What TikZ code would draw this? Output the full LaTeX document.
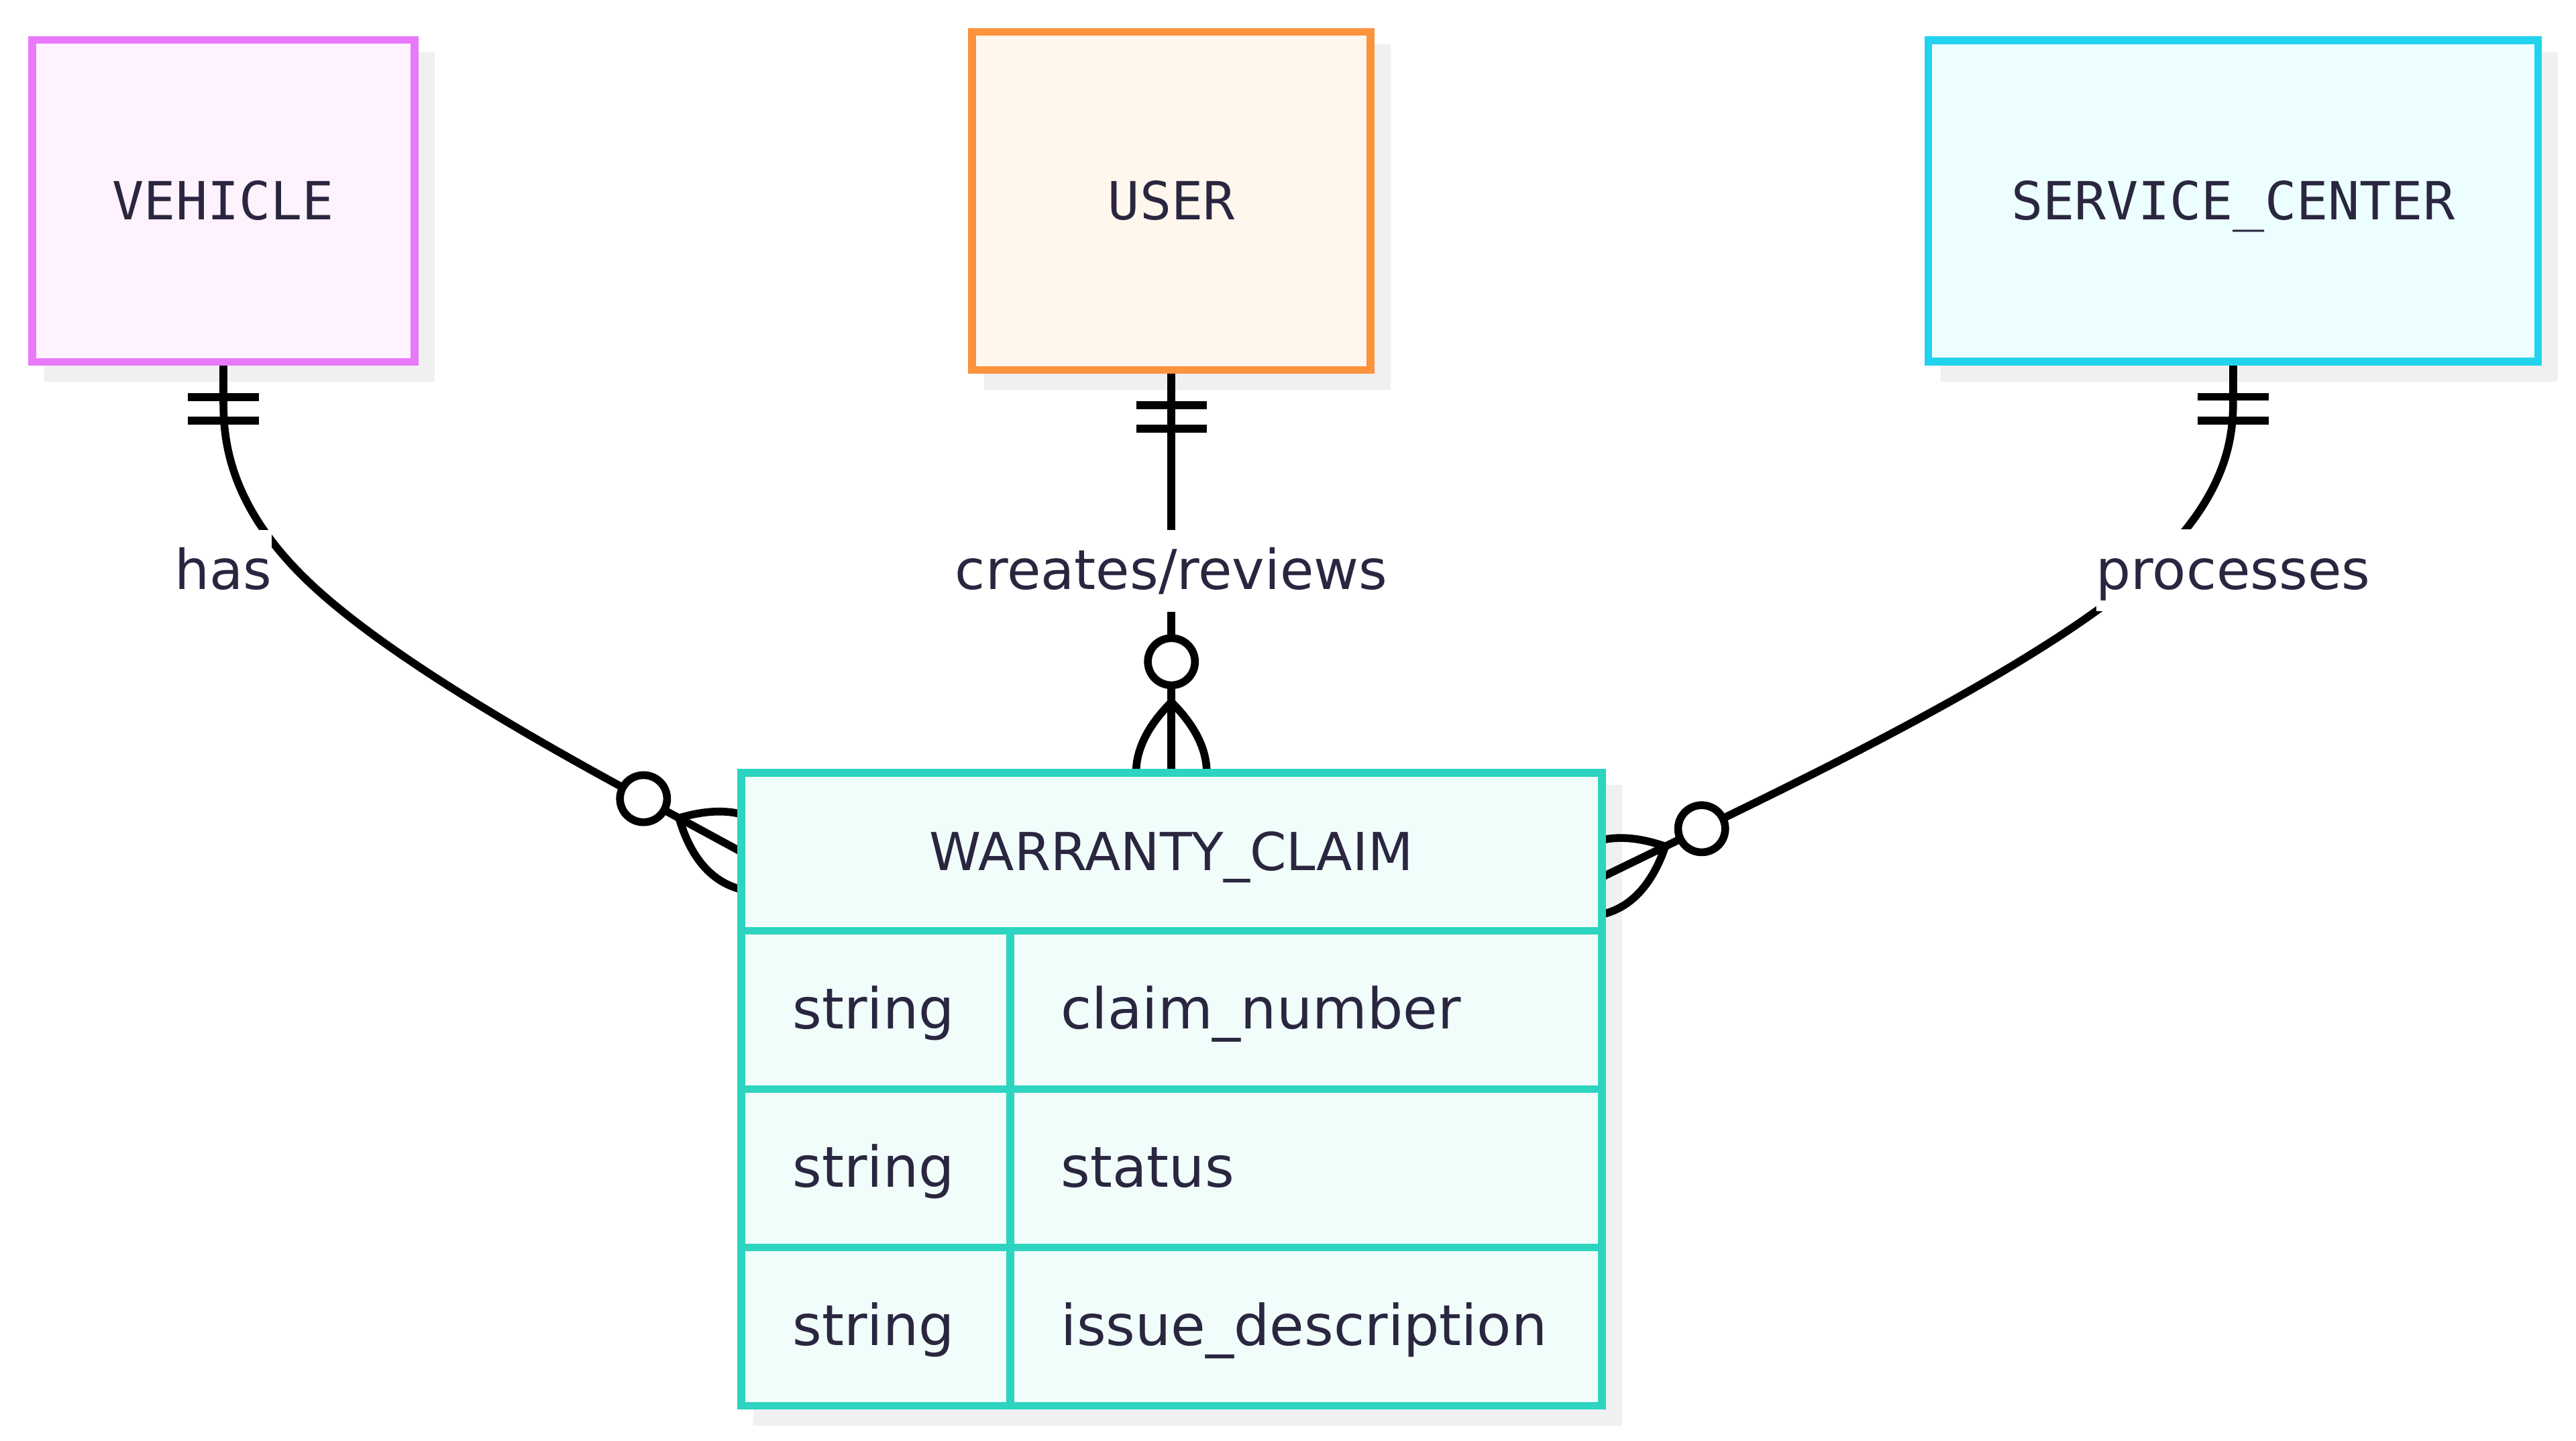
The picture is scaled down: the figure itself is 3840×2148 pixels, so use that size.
\documentclass[tikz,border=0pt]{standalone}
\usepackage{fontspec}
\setmainfont{DejaVu Sans}
\newfontfamily\monofuente{DejaVu Sans Mono}
\usetikzlibrary{positioning,calc}
\definecolor{texto}{RGB}{42,38,64}
\definecolor{rosaborde}{RGB}{232,121,249}
\definecolor{rosafondo}{RGB}{253,242,254}
\definecolor{naranjaborde}{RGB}{251,146,60}
\definecolor{naranjafondo}{RGB}{255,247,237}
\definecolor{cianborde}{RGB}{34,211,238}
\definecolor{cianfondo}{RGB}{236,254,255}
\definecolor{verdeborde}{RGB}{45,212,191}
\definecolor{verdefondo}{RGB}{240,253,250}
\definecolor{sombragris}{RGB}{240,240,240}
\pgfdeclarelayer{sombras}
\pgfdeclarelayer{lineas}
\pgfsetlayers{sombras,lineas,main}

\begin{document}
\begin{tikzpicture}[x=0.25pt, y=-0.25pt,
entidad/.style={rectangle, line width=2.9pt, outer sep=0pt, inner sep=0pt, text height=14pt, text depth=0pt, text=texto, font=\monofuente\fontsize{19.6pt}{24pt}\selectfont},
celda/.style={rectangle, draw=verdeborde, fill=verdefondo, line width=2.9pt, outer sep=0pt, inner ysep=0pt, minimum height=59pt, text height=14pt, text depth=0pt, text=texto, font=\fontsize{21pt}{25pt}\selectfont},
cabecera/.style={celda, minimum width=320.75pt, minimum height=58.875pt, font=\fontsize{19.5pt}{24pt}\selectfont},
tipo/.style={celda, text width=61.75pt, inner xsep=19.25pt, align=left},
nombre/.style={celda, text width=182.5pt, inner xsep=19pt, align=left},
etiqueta/.style={fill=white, outer sep=0pt, inner xsep=0pt, inner ysep=0pt, minimum height=30.5pt, text height=14pt, text depth=0pt, text=texto, font=\fontsize{20.5pt}{24pt}\selectfont},
conector/.style={draw=black, line width=2.9pt},
sombra/.style={fill=sombragris},
uno/.pic={\draw[conector, x=1.4625pt, y=1.4625pt] (9,-9) -- (9,9) (15,-9) -- (15,9);},
muchos/.pic={\draw[conector, x=1.4625pt, y=1.4625pt] (18,0) .. controls (6,12) and (-6,12) .. (-18,0) (18,0) .. controls (6,-12) and (-6,-12) .. (-18,0);
  \draw[conector, fill=white, x=1.4625pt, y=1.4625pt] (28.3,0) circle[radius=6];},
]
\useasboundingbox (0,0) rectangle (3840,2148);
%Entidades
\node[entidad, draw=rosaborde, fill=rosafondo, minimum width=142.5pt, minimum height=120pt] (vehiculo) at (333,299.5) {VEHICLE};
\node[entidad, draw=naranjaborde, fill=naranjafondo, minimum width=148.5pt, minimum height=126pt] (usuario) [right=207.8pt of vehiculo] {USER};
\node[entidad, draw=cianborde, fill=cianfondo, minimum width=227.25pt, minimum height=119.75pt] (centro_servicio) [right=207.8pt of usuario] {SERVICE\_CENTER};

%Tabla
\node[cabecera]  (reclamo)  [below=150.1pt of usuario] {WARRANTY\_CLAIM};
\node[tipo, anchor=north west] (tipo_1) at (reclamo.south west) {string};
\node[nombre]    (nombre_1) [right=0pt of tipo_1] {claim\_number};
\node[tipo]      (tipo_2)   [below=0pt of tipo_1] {string};
\node[nombre]    (nombre_2) [right=0pt of tipo_2] {status};
\node[tipo]      (tipo_3)   [below=0pt of tipo_2] {string};
\node[nombre]    (nombre_3) [right=0pt of tipo_3] {issue\_description};

%Etiquetas
\node[etiqueta]  (etq_tiene)   [below=62.6pt of vehiculo] {has};
\node[etiqueta]  (etq_crea)    [below=59.6pt of usuario] {creates/reviews};
\node[etiqueta]  (etq_procesa) [below=62.6pt of centro_servicio] {processes};
\coordinate (fin_procesa) at ([yshift=-9.5pt]reclamo.east);

%Sombras
\begin{pgfonlayer}{sombras}
\fill[sombra] ([shift={(18.2,18.2)}]vehiculo.north west) rectangle ([shift={(29.8,29.8)}]vehiculo.south east);
\fill[sombra] ([shift={(18.2,18.2)}]usuario.north west) rectangle ([shift={(29.8,29.8)}]usuario.south east);
\fill[sombra] ([shift={(18.2,18.2)}]centro_servicio.north west) rectangle ([shift={(29.8,29.8)}]centro_servicio.south east);
\fill[sombra] ([shift={(18.2,18.2)}]reclamo.north west) rectangle ([shift={(29.8,29.8)}]nombre_3.south east);
\end{pgfonlayer}

%Lineas
\begin{pgfonlayer}{lineas}
\draw[conector] (vehiculo.south) -- ($(vehiculo.south)!0.16667!(etq_tiene.center)$)
  .. controls ($(vehiculo.south)!0.33333!(etq_tiene.center)$) and ($(vehiculo.south)!0.66667!(etq_tiene.center)$)
  .. ($0.16667*(vehiculo.south)+0.66667*(etq_tiene.center)+0.16667*(reclamo.west)$)
  .. controls ($(etq_tiene.center)!0.33333!(reclamo.west)$) and ($(etq_tiene.center)!0.66667!(reclamo.west)$)
  .. ($(etq_tiene.center)!0.83333!(reclamo.west)$) -- (reclamo.west);
\draw[conector] (usuario.south) -- (reclamo.north);
\draw[conector] (centro_servicio.south) -- ($(centro_servicio.south)!0.16667!(etq_procesa.center)$)
  .. controls ($(centro_servicio.south)!0.33333!(etq_procesa.center)$) and ($(centro_servicio.south)!0.66667!(etq_procesa.center)$)
  .. ($0.16667*(centro_servicio.south)+0.66667*(etq_procesa.center)+0.16667*(fin_procesa)$)
  .. controls ($(etq_procesa.center)!0.33333!(fin_procesa)$) and ($(etq_procesa.center)!0.66667!(fin_procesa)$)
  .. ($(etq_procesa.center)!0.83333!(fin_procesa)$) -- (fin_procesa);
\pic[rotate=-90] at (vehiculo.south) {uno};
\pic[rotate=-90] at (usuario.south) {uno};
\pic[rotate=-90] at (centro_servicio.south) {uno};
\pic[rotate=151.45] at (reclamo.west) {muchos};
\pic[rotate=90] at (reclamo.north) {muchos};
\pic[rotate=25.9] at (fin_procesa) {muchos};
\end{pgfonlayer}
\end{tikzpicture}
\end{document}
